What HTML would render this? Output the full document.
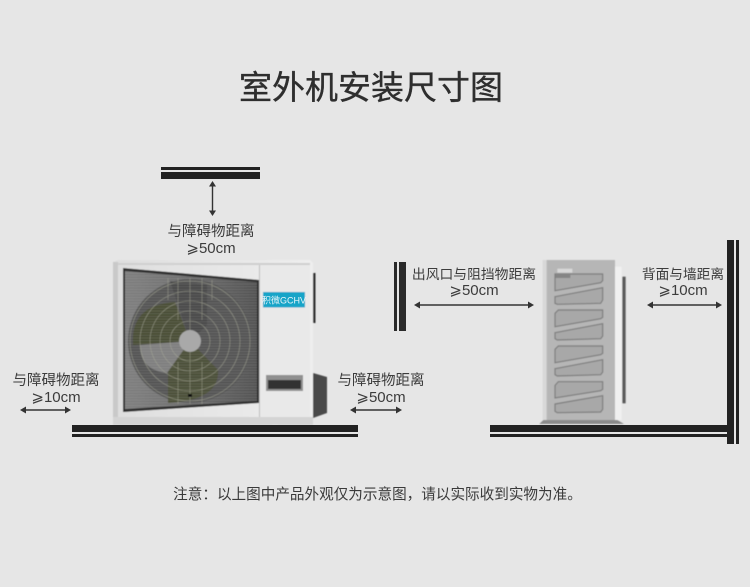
<!DOCTYPE html>
<html><head><meta charset="utf-8"><style>
html,body{margin:0;padding:0;background:#e6e6e6}
svg{display:block}
text{font-family:"Liberation Sans","Noto Sans CJK SC",sans-serif;fill:#3a3a3a}
.l{font-size:14.5px;text-anchor:middle;fill:#3c3c3c}
.n{font-size:15px;text-anchor:middle;fill:#3c3c3c}
</style></head><body>
<svg width="750" height="587" viewBox="0 0 750 587" xmlns="http://www.w3.org/2000/svg">
<defs>
<linearGradient id="fr" x1="0" x2="1" y1="0" y2="0"><stop offset="0" stop-color="#dedede"/><stop offset="1" stop-color="#eeeeee"/></linearGradient>
<linearGradient id="gr" x1="0" x2="1" y1="0" y2="0"><stop offset="0" stop-color="#7e7e7e"/><stop offset=".5" stop-color="#6c6c6c"/><stop offset="1" stop-color="#505050"/></linearGradient>
<pattern id="lv" width="4" height="2.700" patternUnits="userSpaceOnUse"><rect width="4" height="1" fill="#c4c4c4" opacity=".2"/></pattern>
<clipPath id="gc"><polygon points="125,271 257,282 257,401 125,409"/></clipPath>
<filter id="b" x="-5%" y="-5%" width="110%" height="110%"><feGaussianBlur stdDeviation=".5"/></filter>
</defs>
<rect width="750" height="587" fill="#e6e6e6"/>
<text x="371" y="99" font-size="33" text-anchor="middle" style="fill:#2e2e2e;stroke:#2e2e2e;stroke-width:.35">室外机安装尺寸图</text>

<!-- top bars -->
<rect x="161" y="167" width="99" height="3" fill="#222"/>
<rect x="161" y="172" width="99" height="7" fill="#222"/>
<g stroke="#333" stroke-width="1.400" fill="#333">
<line x1="212.500" y1="184" x2="212.500" y2="213"/>
<polygon points="212.500,181 209,186.500 216,186.500" stroke="none"/>
<polygon points="212.500,216 209,210.500 216,210.500" stroke="none"/>
<line x1="24" y1="410" x2="68" y2="410"/>
<polygon points="20,410 26,406.500 26,413.500" stroke="none"/><polygon points="71,410 65,406.500 65,413.500" stroke="none"/>
<line x1="354" y1="410" x2="398" y2="410"/>
<polygon points="350,410 356,406.500 356,413.500" stroke="none"/><polygon points="402,410 396,406.500 396,413.500" stroke="none"/>
<line x1="418" y1="305" x2="530" y2="305"/>
<polygon points="414,305 420,301.500 420,308.500" stroke="none"/><polygon points="534,305 528,301.500 528,308.500" stroke="none"/>
<line x1="650" y1="305" x2="719" y2="305"/>
<polygon points="647,305 653,301.500 653,308.500" stroke="none"/><polygon points="722,305 716,301.500 716,308.500" stroke="none"/>
</g>

<text class="l" x="211" y="236">与障碍物距离</text>
<text class="n" x="211" y="253">⩾50cm</text>
<text class="l" x="56" y="385">与障碍物距离</text>
<text class="n" x="56" y="402">⩾10cm</text>
<text class="l" x="381" y="385">与障碍物距离</text>
<text class="n" x="381" y="402">⩾50cm</text>
<text class="l" x="474" y="279" style="font-size:13.800px">出风口与阻挡物距离</text>
<text class="n" x="474" y="295">⩾50cm</text>
<text class="l" x="683" y="279" style="font-size:13.700px">背面与墙距离</text>
<text class="n" x="683" y="295">⩾10cm</text>

<!-- front unit -->
<g filter="url(#b)">
<rect x="313" y="273" width="2.500" height="50" fill="#333"/>
<polygon points="313,373 327,377 327,413 313,418" fill="#4a4a4a"/>
<polygon points="113,262 118,260 310,260 313,263 313,425 113,425" fill="url(#fr)"/>
<rect x="113" y="262" width="5" height="163" fill="#c9c9c9"/>
<rect x="118" y="263" width="192" height="2" fill="#cfcfcf"/>
<rect x="259" y="265" width="1" height="160" fill="#bdbdbd"/>
<rect x="260" y="265" width="50" height="160" fill="#e9e9e9"/>
<rect x="113" y="417" width="200" height="8" fill="#d4d4d4"/>
<polygon points="123,268 259,280 259,403 123,412" fill="#2e2e2e"/>
<polygon points="125,271 257,282 257,401 125,409" fill="url(#gr)"/>
<g clip-path="url(#gc)">
<circle cx="190" cy="341" r="62" fill="#525252"/>
<path d="M190,341 L133,345 Q130,305 175,302 Z" fill="#474b33"/>
<path d="M190,341 L218,370 Q220,400 168,403 L168,368 Z" fill="#494d35"/>
<path d="M190,341 L167,373 Q140,370 140,345 Z" fill="#7e7e7e"/>
<path d="M190,341 L170,281 L207,285 L207,325 Z" fill="#474747"/>
<g fill="none" stroke="#a8aa98" stroke-width=".6" opacity=".7">
<circle cx="190" cy="341" r="20"/><circle cx="190" cy="341" r="30"/><circle cx="190" cy="341" r="40"/><circle cx="190" cy="341" r="50"/><circle cx="190" cy="341" r="60"/>
<line x1="168" y1="278" x2="168" y2="300"/><line x1="178" y1="278" x2="178" y2="320"/><line x1="190" y1="278" x2="190" y2="404"/><line x1="202" y1="278" x2="202" y2="320"/><line x1="212" y1="280" x2="212" y2="300"/>
<line x1="178" y1="362" x2="178" y2="404"/><line x1="202" y1="362" x2="202" y2="404"/>
</g>
<rect x="124" y="268" width="134" height="145" fill="url(#lv)"/>
</g>
<circle cx="190" cy="341" r="11" fill="#a9a9a9"/>
<rect x="188" y="394" width="4" height="3" fill="#111"/>
<rect x="263" y="292" width="42" height="15.500" fill="#18a4c8"/>
<rect x="266" y="375" width="37" height="16" fill="#8f8f8f"/>
<rect x="268" y="380" width="33" height="9" fill="#333"/>
<rect x="134" y="427" width="15" height="3" fill="#f2f2f2"/>
<rect x="272" y="425" width="6" height="5" fill="#f4f4f4"/>
<rect x="278" y="427" width="15" height="3" fill="#ededed"/>
</g>
<text x="284" y="303.500" font-size="9" text-anchor="middle" style="fill:#e8f6fa">积微GCHV</text>

<!-- ground left -->
<rect x="72" y="425" width="286" height="7" fill="#222"/>
<rect x="72" y="434" width="286" height="3" fill="#222"/>

<!-- side unit -->
<g filter="url(#b)">
<g transform="translate(530 250) scale(.33333)">
<rect x="38" y="30" width="17" height="480" fill="#d8d8d8"/>
<rect x="255" y="50" width="20" height="460" fill="#f0f0f0"/>
<rect x="277" y="80" width="10" height="380" fill="#5a5a5a"/>
<rect x="50" y="30" width="205" height="480" fill="#b6b6b6"/>
<g fill="#a8a8a8" stroke="#7c7c7c" stroke-width="3.500">
<path d="M75,72 H218 V92 L212,98 L75,122 Z"/>
<path d="M75,140 L218,113 V150 L212,160 L82,163 L75,160 Z"/>
<path d="M75,190 L85,180 H218 V202 L212,206 L75,230 Z"/>
<path d="M75,248 L218,221 V258 L212,266 L82,270 L75,266 Z"/>
<path d="M75,298 L85,288 H218 V310 L212,314 L75,338 Z"/>
<path d="M75,356 L218,329 V366 L212,374 L82,378 L75,374 Z"/>
<path d="M75,406 L85,395 H218 V418 L212,422 L75,444 Z"/>
<path d="M75,462 L218,437 V478 L212,486 L82,488 L75,484 Z"/>
</g>
<rect x="82" y="56" width="45" height="12" fill="#d8d8d8"/>
<rect x="76" y="70" width="45" height="14" fill="#858585"/>
<polygon points="40,510 262,510 282,522 28,522" fill="#8a8a8a"/>
</g>
</g>

<!-- right walls / ground -->
<rect x="394" y="262" width="3" height="69" fill="#2a2a2a"/>
<rect x="399" y="262" width="7" height="69" fill="#2a2a2a"/>
<rect x="490" y="425" width="237" height="7" fill="#222"/>
<rect x="490" y="434" width="237" height="3" fill="#222"/>
<rect x="727" y="240" width="7" height="204" fill="#222"/>
<rect x="736" y="240" width="3" height="204" fill="#222"/>

<text x="377.500" y="499" font-size="14.600" text-anchor="middle" fill="#3c3c3c">注意：以上图中产品外观仅为示意图，请以实际收到实物为准。</text>
</svg>
</body></html>
